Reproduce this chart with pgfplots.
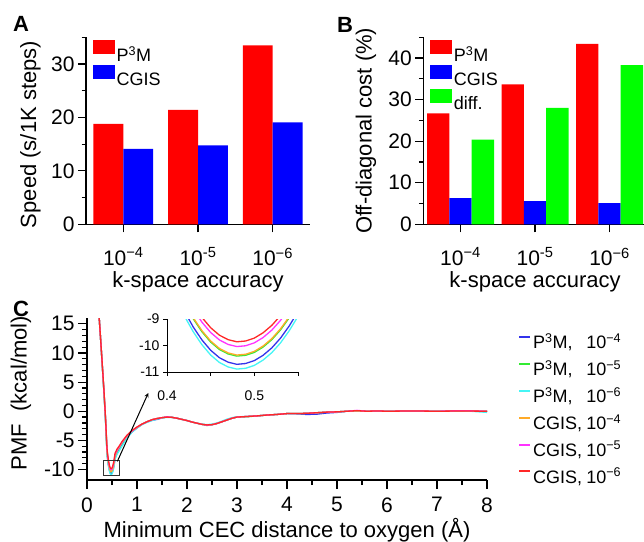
\documentclass[border=0pt]{standalone}
\usepackage{fontspec}
\setmainfont{Liberation Sans}
\usepackage{pgfplots}
\usepackage{pgfplotstable}
\pgfplotsset{compat=1.18}

\definecolor{cblue}{RGB}{51,51,235}
\definecolor{cgreen}{RGB}{51,235,51}
\definecolor{ccyan}{RGB}{70,245,245}
\definecolor{corange}{RGB}{255,170,40}
\definecolor{cmag}{RGB}{255,51,255}
\definecolor{cred}{RGB}{255,40,40}

% PMF curves, one table per run
\pgfplotstableread[row sep=\\]{x y\\
0.22 19.0\\ 0.26 14.0\\ 0.30 8.6\\ 0.34 3.1\\ 0.37 -1.4\\
0.40 -7.21\\ 0.41 -8.01\\ 0.42 -8.71\\ 0.43 -9.30\\ 0.44 -9.79\\ 0.45 -10.18\\ 0.46 -10.46\\ 0.47 -10.63\\ 0.48 -10.71\\
0.49 -10.68\\ 0.50 -10.57\\ 0.51 -10.37\\ 0.52 -10.09\\ 0.53 -9.72\\ 0.54 -9.26\\ 0.55 -8.72\\ 0.56 -8.09\\
0.60 -7.2\\ 0.65 -6.5\\ 0.70 -5.8\\ 0.80 -4.5\\ 0.90 -3.55\\ 1.0 -2.85\\
1.1 -2.25\\ 1.2 -1.85\\ 1.3 -1.55\\ 1.4 -1.4\\ 1.5 -1.15\\ 1.6 -1.0\\ 1.7 -1.05\\ 1.8 -1.2\\ 1.9 -1.4\\ 2.0 -1.6\\
2.1 -1.85\\ 2.2 -2.05\\ 2.3 -2.25\\ 2.4 -2.35\\ 2.5 -2.3\\ 2.6 -2.1\\ 2.7 -1.8\\ 2.8 -1.5\\ 2.9 -1.2\\ 3.0 -1.0\\
3.2 -0.9\\ 3.4 -0.8\\ 3.6 -0.65\\ 3.8 -0.55\\ 4.0 -0.4\\ 4.2 -0.45\\ 4.4 -0.55\\ 4.6 -0.5\\ 4.8 -0.3\\ 5.0 -0.2\\
5.2 0.0\\ 5.4 0.1\\ 5.6 0.0\\ 5.8 0.05\\ 6.0 0.0\\ 6.5 0.05\\ 7.0 0.0\\ 7.5 0.05\\ 8.0 0.0\\
}\pmfPa
\pgfplotstableread[row sep=\\]{x y\\
0.22 19.0\\ 0.26 14.0\\ 0.30 8.6\\ 0.34 3.2\\ 0.37 -1.2\\
0.40 -6.90\\ 0.41 -7.70\\ 0.42 -8.40\\ 0.43 -8.99\\ 0.44 -9.48\\ 0.45 -9.87\\ 0.46 -10.15\\ 0.47 -10.32\\ 0.48 -10.40\\
0.49 -10.37\\ 0.50 -10.26\\ 0.51 -10.06\\ 0.52 -9.78\\ 0.53 -9.41\\ 0.54 -8.95\\ 0.55 -8.41\\ 0.56 -7.78\\
0.60 -6.9\\ 0.65 -6.2\\ 0.70 -5.5\\ 0.80 -4.3\\ 0.90 -3.45\\ 1.0 -2.8\\
1.1 -2.2\\ 1.2 -1.8\\ 1.3 -1.45\\ 1.4 -1.25\\ 1.5 -1.1\\ 1.6 -1.0\\ 1.7 -1.05\\ 1.8 -1.2\\ 1.9 -1.4\\ 2.0 -1.6\\
2.1 -1.85\\ 2.2 -2.05\\ 2.3 -2.25\\ 2.4 -2.45\\ 2.5 -2.3\\ 2.6 -2.1\\ 2.7 -1.8\\ 2.8 -1.5\\ 2.9 -1.2\\ 3.0 -1.0\\
3.2 -0.95\\ 3.4 -0.8\\ 3.6 -0.65\\ 3.8 -0.55\\ 4.0 -0.4\\ 4.2 -0.4\\ 4.4 -0.35\\ 4.6 -0.25\\ 4.8 -0.15\\ 5.0 -0.1\\
5.2 0.0\\ 5.4 0.1\\ 5.6 0.0\\ 5.8 0.05\\ 6.0 0.0\\ 6.5 0.05\\ 7.0 0.0\\ 7.5 0.05\\ 8.0 0.0\\
}\pmfPb
\pgfplotstableread[row sep=\\]{x y\\
0.22 19.0\\ 0.26 14.0\\ 0.30 8.6\\ 0.34 3.0\\ 0.37 -1.6\\
0.40 -7.39\\ 0.41 -8.19\\ 0.42 -8.89\\ 0.43 -9.48\\ 0.44 -9.97\\ 0.45 -10.36\\ 0.46 -10.64\\ 0.47 -10.81\\ 0.48 -10.89\\
0.49 -10.86\\ 0.50 -10.75\\ 0.51 -10.55\\ 0.52 -10.27\\ 0.53 -9.90\\ 0.54 -9.44\\ 0.55 -8.90\\ 0.56 -8.27\\
0.60 -7.4\\ 0.65 -6.7\\ 0.70 -6.0\\ 0.80 -4.6\\ 0.90 -3.6\\ 1.0 -2.9\\
1.1 -2.3\\ 1.2 -1.9\\ 1.3 -1.6\\ 1.4 -1.35\\ 1.5 -1.15\\ 1.6 -1.05\\ 1.7 -1.05\\ 1.8 -1.2\\ 1.9 -1.4\\ 2.0 -1.6\\
2.1 -1.85\\ 2.2 -2.05\\ 2.3 -2.2\\ 2.4 -2.3\\ 2.5 -2.2\\ 2.6 -2.0\\ 2.7 -1.7\\ 2.8 -1.35\\ 2.9 -1.1\\ 3.0 -0.95\\
3.2 -0.9\\ 3.4 -0.8\\ 3.6 -0.65\\ 3.8 -0.55\\ 4.0 -0.4\\ 4.2 -0.4\\ 4.4 -0.35\\ 4.6 -0.25\\ 4.8 -0.15\\ 5.0 -0.1\\
5.2 0.0\\ 5.4 0.05\\ 5.6 0.0\\ 5.8 0.05\\ 6.0 0.0\\ 6.5 0.05\\ 7.0 0.0\\ 7.5 0.1\\ 8.0 -0.2\\
}\pmfPc
\pgfplotstableread[row sep=\\]{x y\\
0.22 19.0\\ 0.26 14.0\\ 0.30 8.7\\ 0.34 3.3\\ 0.37 -1.2\\
0.40 -6.86\\ 0.41 -7.66\\ 0.42 -8.36\\ 0.43 -8.95\\ 0.44 -9.44\\ 0.45 -9.83\\ 0.46 -10.11\\ 0.47 -10.28\\ 0.48 -10.36\\
0.49 -10.33\\ 0.50 -10.22\\ 0.51 -10.02\\ 0.52 -9.74\\ 0.53 -9.37\\ 0.54 -8.91\\ 0.55 -8.37\\ 0.56 -7.74\\
0.60 -6.8\\ 0.65 -6.1\\ 0.70 -5.4\\ 0.80 -4.25\\ 0.90 -3.4\\ 1.0 -2.8\\
1.1 -2.2\\ 1.2 -1.8\\ 1.3 -1.45\\ 1.4 -1.25\\ 1.5 -1.1\\ 1.6 -1.0\\ 1.7 -1.05\\ 1.8 -1.2\\ 1.9 -1.4\\ 2.0 -1.6\\
2.1 -1.85\\ 2.2 -2.05\\ 2.3 -2.25\\ 2.4 -2.35\\ 2.5 -2.3\\ 2.6 -2.1\\ 2.7 -1.8\\ 2.8 -1.5\\ 2.9 -1.2\\ 3.0 -1.0\\
3.2 -0.9\\ 3.4 -0.8\\ 3.6 -0.65\\ 3.8 -0.55\\ 4.0 -0.4\\ 4.2 -0.4\\ 4.4 -0.35\\ 4.6 -0.25\\ 4.8 -0.15\\ 5.0 -0.1\\
5.2 0.0\\ 5.4 0.05\\ 5.6 0.0\\ 5.8 0.05\\ 6.0 0.0\\ 6.5 0.05\\ 7.0 0.0\\ 7.5 0.05\\ 8.0 0.0\\
}\pmfCa
\pgfplotstableread[row sep=\\]{x y\\
0.22 19.0\\ 0.26 14.0\\ 0.30 8.7\\ 0.34 3.4\\ 0.37 -1.1\\
0.40 -6.54\\ 0.41 -7.34\\ 0.42 -8.04\\ 0.43 -8.63\\ 0.44 -9.12\\ 0.45 -9.51\\ 0.46 -9.79\\ 0.47 -9.96\\ 0.48 -10.04\\
0.49 -10.01\\ 0.50 -9.90\\ 0.51 -9.70\\ 0.52 -9.42\\ 0.53 -9.05\\ 0.54 -8.59\\ 0.55 -8.05\\ 0.56 -7.42\\
0.60 -6.7\\ 0.65 -6.0\\ 0.70 -5.3\\ 0.80 -4.2\\ 0.90 -3.4\\ 1.0 -2.75\\
1.1 -2.2\\ 1.2 -1.8\\ 1.3 -1.45\\ 1.4 -1.25\\ 1.5 -1.1\\ 1.6 -0.95\\ 1.7 -1.05\\ 1.8 -1.2\\ 1.9 -1.4\\ 2.0 -1.6\\
2.1 -1.85\\ 2.2 -2.05\\ 2.3 -2.25\\ 2.4 -2.4\\ 2.5 -2.3\\ 2.6 -2.1\\ 2.7 -1.8\\ 2.8 -1.5\\ 2.9 -1.2\\ 3.0 -1.0\\
3.2 -0.9\\ 3.4 -0.8\\ 3.6 -0.65\\ 3.8 -0.55\\ 4.0 -0.4\\ 4.2 -0.4\\ 4.4 -0.35\\ 4.6 -0.25\\ 4.8 -0.15\\ 5.0 -0.1\\
5.2 0.0\\ 5.4 0.15\\ 5.6 0.0\\ 5.8 0.05\\ 6.0 0.0\\ 6.5 0.05\\ 7.0 0.0\\ 7.5 0.1\\ 8.0 0.0\\
}\pmfCb
\pgfplotstableread[row sep=\\]{x y\\
0.22 19.0\\ 0.26 14.0\\ 0.30 8.8\\ 0.34 3.5\\ 0.37 -1.0\\
0.40 -6.36\\ 0.41 -7.16\\ 0.42 -7.86\\ 0.43 -8.45\\ 0.44 -8.94\\ 0.45 -9.33\\ 0.46 -9.61\\ 0.47 -9.78\\ 0.48 -9.86\\
0.49 -9.83\\ 0.50 -9.72\\ 0.51 -9.52\\ 0.52 -9.24\\ 0.53 -8.87\\ 0.54 -8.41\\ 0.55 -7.87\\ 0.56 -7.24\\
0.60 -6.5\\ 0.65 -5.9\\ 0.70 -5.2\\ 0.80 -4.1\\ 0.90 -3.3\\ 1.0 -2.7\\
1.1 -2.2\\ 1.2 -1.8\\ 1.3 -1.45\\ 1.4 -1.25\\ 1.5 -1.1\\ 1.6 -1.0\\ 1.7 -1.05\\ 1.8 -1.2\\ 1.9 -1.4\\ 2.0 -1.6\\
2.1 -1.85\\ 2.2 -2.05\\ 2.3 -2.25\\ 2.4 -2.35\\ 2.5 -2.3\\ 2.6 -2.1\\ 2.7 -1.8\\ 2.8 -1.5\\ 2.9 -1.2\\ 3.0 -1.0\\
3.2 -0.9\\ 3.4 -0.8\\ 3.6 -0.65\\ 3.8 -0.55\\ 4.0 -0.4\\ 4.2 -0.4\\ 4.4 -0.35\\ 4.6 -0.25\\ 4.8 -0.15\\ 5.0 -0.1\\
5.2 0.0\\ 5.4 0.1\\ 5.6 0.0\\ 5.8 0.05\\ 6.0 0.0\\ 6.5 0.05\\ 7.0 0.0\\ 7.5 0.05\\ 8.0 0.0\\
}\pmfCc

\pgfplotsset{
  panel/.style={
    scale only axis, axis lines*=left,
    axis line style={line width=1.2pt,-},
    every tick/.style={line width=1.2pt, black},
    tick align=outside, major tick length=8pt, minor tick length=4.5pt,
    /pgf/number format/assume math mode=true,
    tick label style={font=\fontsize{21}{25}\selectfont},
    legend style={font=\fontsize{18}{21.6}\selectfont, draw=none, fill=none},
  },
  barleg/.style={legend image code/.code={\fill[##1] (0pt,1pt) rectangle (22pt,15pt);}},
}
\newcommand{\labfont}{\fontsize{22}{26}\selectfont}

\begin{document}
\begin{tikzpicture}
\useasboundingbox (0pt,0pt) rectangle (644pt,-541pt);

% ---- A ----
\begin{axis}[panel,
  at={(86pt,-224.3pt)}, anchor=south west, width=224pt, height=187pt,
  ybar=0pt, bar width=0.4,
  xmin=-0.5, xmax=2.5, ymin=0, ymax=35,
  xtick={0,1,2}, xticklabels={10\textsuperscript{−4},10\textsuperscript{-5},10\textsuperscript{−6}},
  xticklabel style={yshift=-12pt},
  ytick={0,10,20,30}, minor ytick={5,15,25,35},
  xlabel={k-space accuracy}, ylabel={Speed (s/1K steps)},
  ylabel style={at={(axis description cs:-0.223,0.48)}, rotate=0, anchor=base, font=\labfont},
  xlabel style={at={(axis description cs:0.5,-0.338)}, anchor=base, font=\labfont},
  legend style={at={(axis description cs:0.015,1.0)}, anchor=north west, row sep=0pt},
  legend cell align=left,
]
\addplot[fill=red, draw=none, barleg] coordinates {(0,18.8) (1,21.4) (2,33.5)};
\addplot[fill=blue, draw=none, barleg] coordinates {(0,14.1) (1,14.75) (2,19.1)};
\legend{P\textsuperscript{3}M, CGIS}
\end{axis}

% ---- B ----
\begin{axis}[panel,
  at={(423.3pt,-224.3pt)}, anchor=south west, width=223.5pt, height=187pt,
  ybar=0pt, bar width=0.3,
  xmin=-0.5, xmax=2.5, ymin=0, ymax=45,
  xtick={0,1,2}, xticklabels={10\textsuperscript{−4},10\textsuperscript{-5},10\textsuperscript{−6}},
  xticklabel style={yshift=-12pt},
  ytick={0,10,20,30,40}, minor ytick={5,15,25,35,45},
  xlabel={k-space accuracy}, ylabel={Off-diagonal cost (\%)},
  ylabel style={at={(axis description cs:-0.231,0.5)}, rotate=0, anchor=base, font=\labfont},
  xlabel style={at={(axis description cs:0.5,-0.338)}, anchor=base, font=\labfont},
  legend style={at={(axis description cs:0.015,1.0)}, anchor=north west, row sep=0pt},
  legend cell align=left,
]
\addplot[fill=red, draw=none, barleg] coordinates {(0,26.7) (1,33.7) (2,43.4)};
\addplot[fill=blue, draw=none, barleg] coordinates {(0,6.3) (1,5.6) (2,5.1)};
\addplot[fill=green, draw=none, barleg] coordinates {(0,20.4) (1,28.0) (2,38.3)};
\legend{P\textsuperscript{3}M, CGIS, diff.}
\end{axis}

% ---- C ----
\begin{axis}[panel,
  at={(87pt,-480pt)}, anchor=south west, width=400pt, height=162pt,
  major tick length=9pt, minor tick length=5pt,
  xmin=0, xmax=8, ymin=-11.8, ymax=16,
  xtick={0,...,8}, minor x tick num=1,
  xticklabel style={yshift=-5pt},
  ytick={-10,-5,0,5,10,15}, minor y tick num=4,
  xlabel={Minimum CEC distance to oxygen (Å)}, ylabel={PMF\ \ (kcal/mol)},
  ylabel style={at={(axis description cs:-0.151,0.537)}, rotate=0, anchor=base, font=\labfont},
  xlabel style={at={(axis description cs:0.5,-0.352)}, anchor=base, font=\labfont},
  legend style={at={(axis description cs:1.07,0.93)}, anchor=north west, row sep=6.4pt},
  legend cell align=left,
  legend image code/.code={\draw[#1, line width=2pt] (0pt,5pt) -- (11pt,5pt);},
]
\addplot[color=cblue, line width=1.3pt] table {\pmfPa};
\addplot[color=cgreen, line width=1.3pt] table {\pmfPb};
\addplot[color=ccyan, line width=1.3pt] table {\pmfPc};
\addplot[color=corange, line width=1.3pt] table {\pmfCa};
\addplot[color=cmag, line width=1.3pt] table {\pmfCb};
\addplot[color=cred, line width=1.3pt] table {\pmfCc};
\legend{\makebox[2.95em][l]{P\textsuperscript{3}M,}10\textsuperscript{−4},
        \makebox[2.95em][l]{P\textsuperscript{3}M,}10\textsuperscript{−5},
        \makebox[2.95em][l]{P\textsuperscript{3}M,}10\textsuperscript{−6},
        \makebox[2.95em][l]{CGIS,}10\textsuperscript{−4},
        \makebox[2.95em][l]{CGIS,}10\textsuperscript{−5},
        \makebox[2.95em][l]{CGIS,}10\textsuperscript{−6}}
\draw[line width=1pt, black!80] (axis cs:0.326,-11.08) rectangle (axis cs:0.64,-8.45);
\draw[line width=1pt, -stealth] (axis cs:0.607,-8.6) -- (axis cs:1.226,3.13);
\end{axis}

% ---- inset ----
\begin{axis}[scale only axis,
  at={(167pt,-372pt)}, anchor=south west, width=131pt, height=53pt,
  axis lines*=left, axis line style={line width=1pt,-},
  every tick/.style={line width=1pt, black},
  tick align=outside, major tick length=4pt, minor tick length=4pt,
  /pgf/number format/assume math mode=true,
  /pgf/number format/fixed, /pgf/number format/precision=1,
  tick label style={font=\fontsize{14}{16}\selectfont},
  xticklabel style={yshift=-11pt},
  xmin=0.4, xmax=0.55, ymin=-11, ymax=-9,
  xtick={0.4,0.5}, minor xtick={0.45,0.55},
  ytick={-11,-10,-9},
]
\addplot[color=cblue, line width=1.3pt] table {\pmfPa};
\addplot[color=cgreen, line width=1.3pt] table {\pmfPb};
\addplot[color=ccyan, line width=1.3pt] table {\pmfPc};
\addplot[color=corange, line width=1.3pt] table {\pmfCa};
\addplot[color=cmag, line width=1.3pt] table {\pmfCb};
\addplot[color=cred, line width=1.3pt] table {\pmfCc};
\end{axis}

\node[font=\bfseries\fontsize{22}{26}\selectfont, anchor=base west, inner sep=0pt] at (13pt,-31.5pt) {A};
\node[font=\bfseries\fontsize{22}{26}\selectfont, anchor=base west, inner sep=0pt] at (337pt,-32pt) {B};
\node[font=\bfseries\fontsize{22}{26}\selectfont, anchor=base west, inner sep=0pt] at (13pt,-316.5pt) {C};
\end{tikzpicture}
\end{document}
